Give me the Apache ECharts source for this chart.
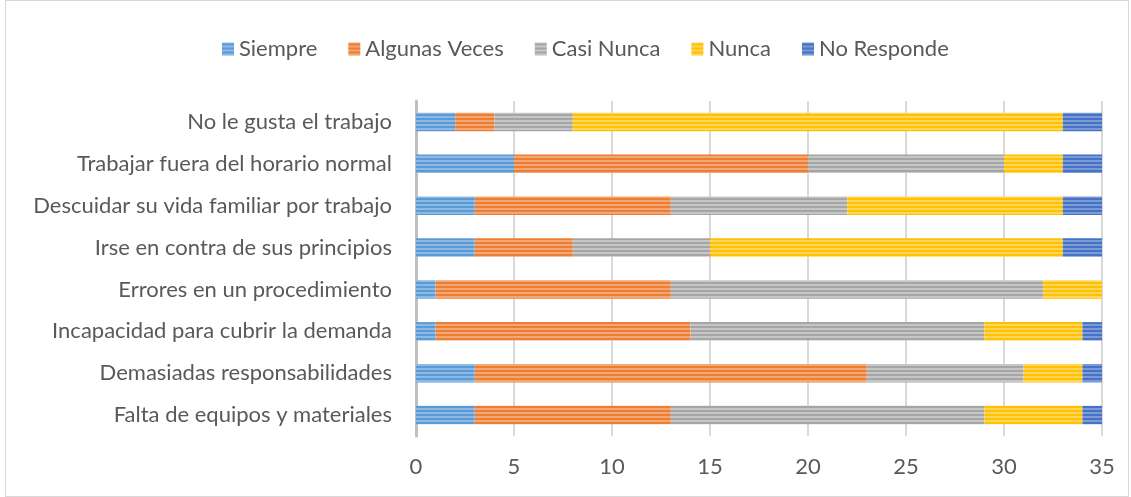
<!DOCTYPE html>
<html>
<head>
<meta charset="utf-8">
<script src="https://cdn.jsdelivr.net/npm/echarts@6/dist/echarts.min.js"></script>
<style>
html, body { margin: 0; padding: 0; background: #ffffff; }
#box {
	position: absolute;
	left: 5px;
	top: 0px;
	width: 1122px;
	height: 495px;
	border: 1px solid #d9d9d9;
	background: #ffffff;
}
</style>
</head>
<body>
<div id="box"></div>
<script>
// categorias (de abajo hacia arriba, como en el eje)
const categories = [
	"Falta de equipos y materiales",
	"Demasiadas responsabilidades",
	"Incapacidad para cubrir la demanda",
	"Errores en un procedimiento",
	"Irse en contra de sus principios",
	"Descuidar su vida familiar por trabajo",
	"Trabajar fuera del horario normal",
	"No le gusta el trabajo",
]
const seriesNames = ["Siempre", "Algunas Veces", "Casi Nunca", "Nunca", "No Responde"]
const siempre = [3, 3, 1, 1, 3, 3, 5, 2]
const algunasVeces = [10, 20, 13, 12, 5, 10, 15, 2]
const casiNunca = [16, 8, 15, 19, 7, 9, 10, 4]
const nunca = [5, 3, 5, 3, 18, 11, 3, 25]
const noResponde = [1, 1, 1, 0, 2, 2, 2, 2]
const xTicks = [0, 5, 10, 15, 20, 25, 30, 35]

const baseColors = ["#5B9BD5", "#ED7D31", "#A5A5A5", "#FFC000", "#4472C4"]
const lightColors = ["#8DB9E4", "#F3A676", "#C6C6C6", "#FFD65C", "#7C9BD6"]

// patron de rayas horizontales
function stripes(dark, light) {
	let c = document.createElement("canvas")
	c.width = 4
	c.height = 4
	let ctx = c.getContext("2d")
	ctx.fillStyle = light
	ctx.fillRect(0, 0, 4, 4)
	ctx.fillStyle = dark
	ctx.fillRect(0, 1, 4, 2)
	return { image: c, repeat: "repeat" }
}

let myCharts = echarts.init(document.getElementById("box"))
let allData = [siempre, algunasVeces, casiNunca, nunca, noResponde]
let option = {
	textStyle: { fontFamily: "Lato" },
	legend: {
		top: 32,
		left: 211,
		itemWidth: 12,
		itemHeight: 13,
		itemGap: 31,
		icon: "rect",
		textStyle: { fontSize: 22, color: "#595959", fontFamily: "Lato" },
		data: seriesNames.map((n, i) => ({ name: n, itemStyle: { color: stripes(baseColors[i], lightColors[i]) } })),
	},
	grid: {
		left: 410,
		right: 26,
		top: 100,
		bottom: 60,
		containLabel: false,
	},
	xAxis: {
		type: "value",
		min: 0,
		max: 35,
		interval: 5,
		axisLine: { show: false },
		axisTick: { show: false },
		splitLine: { lineStyle: { color: "#d9d9d9", width: 2 } },
		axisLabel: {
			fontSize: 22,
			color: "#595959",
			margin: 20,
			formatter: (v) => (xTicks.indexOf(v) >= 0 ? String(v) : ""),
		},
	},
	yAxis: {
		type: "category",
		data: categories,
		axisLine: { show: true, lineStyle: { color: "#bfbfbf", width: 3 } },
		axisTick: { show: false },
		axisLabel: { fontSize: 22, color: "#595959", margin: 24 },
	},
	series: allData.map((d, i) => ({
		name: seriesNames[i],
		type: "bar",
		stack: "total",
		barWidth: "44%",
		data: d,
		itemStyle: { color: stripes(baseColors[i], lightColors[i]) },
	})),
}
myCharts.setOption(option)
</script>
</body>
</html>
